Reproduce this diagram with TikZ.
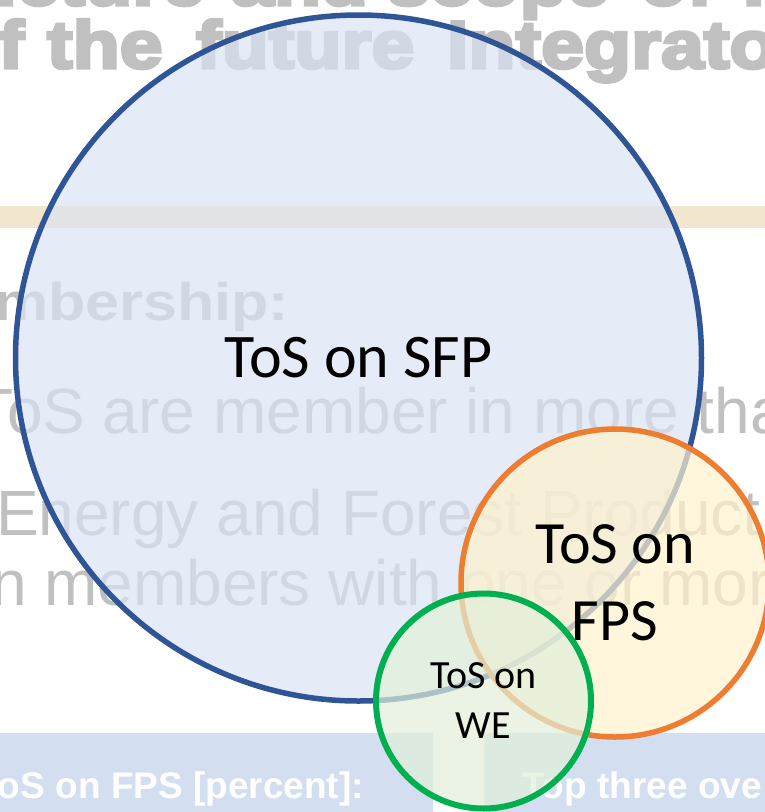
\documentclass[tikz,border=0pt]{standalone}
\usepackage{fontspec}
\setmainfont{Carlito}
\newfontfamily\slidefont{Liberation Sans}
\newfontfamily\slidebold[UprightFont=* Bold]{Liberation Sans}
\newfontfamily\slidewide[UprightFont=* Bold, FakeStretch=1.15]{Liberation Sans}
\newfontfamily\slideblack[UprightFont=* Bold, FakeStretch=1.15, FakeBold=5]{Liberation Sans}
\definecolor{ghost}{RGB}{192,192,192}
\definecolor{tanbar}{RGB}{242,230,206}
\definecolor{bluebar}{RGB}{211,222,240}
\definecolor{sfpline}{RGB}{47,85,151}
\definecolor{sfpfill}{RGB}{218,227,243}
\definecolor{fpsline}{RGB}{237,125,49}
\definecolor{fpsfill}{RGB}{255,242,204}
\definecolor{weline}{RGB}{0,176,80}
\definecolor{wefill}{RGB}{226,240,217}
\tikzset{
  ghosttext/.style={text=ghost, inner sep=0pt, outer sep=0pt},
  titletext/.style={ghosttext, font={\slideblack\fontsize{67}{80}\selectfont}},
  bodytext/.style={ghosttext, font={\slidefont\fontsize{64}{76}\selectfont}},
  bartext/.style={text=white, inner sep=0pt, outer sep=0pt, font={\slidebold\fontsize{37}{44}\selectfont}},
  setcircle/.style={circle, inner sep=0pt, fill opacity=0.7, text opacity=1, text=black, align=center},
}
\begin{document}
\begin{tikzpicture}[x=1pt,y=-1pt]
\useasboundingbox (0,0) rectangle (765,812);
\clip (0,0) rectangle (765,812);
% faded slide in the background
\node[titletext, anchor=base east] (t1a) at (205,5) {ucture};
\node[titletext, anchor=base west] (t1b) at (231,5) {and};
\node[titletext, anchor=base west] (t1c) at (387,5) {scope};
\node[titletext, anchor=base west] (t1d) at (640,5) {of};
\node[titletext, anchor=base west] (t1e) at (743,5) {I};
\node[titletext, anchor=base east] (t2a) at (24,68) {f};
\node[titletext, anchor=base west] (t2b) at (47,68) {the};
\node[titletext, anchor=base west] (t2c) at (196,68) {future};
\node[titletext, anchor=base west] (t2d) at (447,68) {Integrato};
\fill[tanbar] (0,206) rectangle (765,228);
\node[ghosttext, anchor=base east, font={\slidewide\fontsize{53}{64}\selectfont}] (memb) at (289,320) {mbership:};
\node[bodytext, anchor=base west] (l1) at (-25,433) {ToS are member in more tha};
\node[bodytext, anchor=base west] (l2) at (-4,535) {Energy and Forest Product};
\node[bodytext, anchor=base west] (l3) at (-9,605) {n members with one or mor};
\fill[bluebar] (0,733) rectangle (433,812);
\fill[bluebar] (484,733) rectangle (765,812);
\node[bartext, anchor=base west] (b1) at (-2,798) {oS on FPS [percent]:};
\node[bartext, anchor=base west] (b2) at (522,798) {Top three ove};
% the three sets
\node[setcircle, draw=sfpline, line width=5.5pt, fill=sfpfill, minimum size=686pt,
      font={\fontsize{62}{76}\selectfont}] (sfp) at (358.5,358) {ToS on SFP};
\node[setcircle, draw=fpsline, line width=5.5pt, fill=fpsfill, minimum size=308pt,
      font={\fontsize{60}{77}\selectfont}] (fps) at (615,583) {ToS on\\FPS};
\node[setcircle, draw=weline, line width=6pt, fill=wefill, minimum size=215pt,
      font={\fontsize{40}{50}\selectfont}] (we) at (483.5,701) {ToS on\\WE};
\end{tikzpicture}
\end{document}
